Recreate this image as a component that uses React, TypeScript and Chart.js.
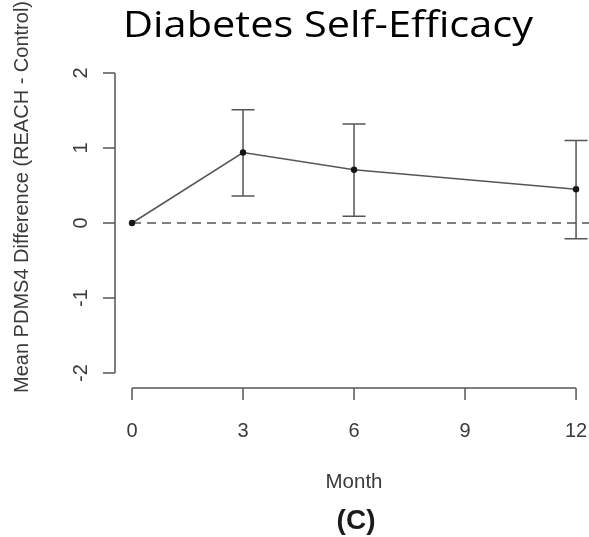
import React, { useEffect, useRef } from "react";
import { Chart, registerables } from "chart.js";

Chart.register(...registerables);

// ---- data ----
const months = [0, 3, 6, 12];
const meanDiff = [0, 0.94, 0.71, 0.45];
const ciLower: (number | null)[] = [null, 0.36, 0.09, -0.21];
const ciUpper: (number | null)[] = [null, 1.51, 1.32, 1.1];
const xTicks = [0, 3, 6, 9, 12];
const yTicks = [-2, -1, 0, 1, 2];
const refLineY = 0;

const titleText = "Diabetes Self-Efficacy";
const yLabel = "Mean PDMS4 Difference (REACH - Control)";
const xLabel = "Month";
const panelLabel = "(C)";

const X_MIN = -0.46;
const X_MAX = 12.35;
const Y_MIN = -2.2;
const Y_MAX = 2.16;

const AXIS_COLOR = "#555555";
const TEXT_COLOR = "#3a3a3a";
const SANS = "'Liberation Sans', Arial, sans-serif";

const decorPlugin = {
  id: "rDecor",
  beforeDatasetsDraw(chart: any) {
    const { ctx, scales } = chart;
    const xs = scales.x;
    const ys = scales.y;
    ctx.save();
    ctx.strokeStyle = AXIS_COLOR;
    ctx.lineWidth = 1.5;
    const cap = 11.5;
    for (let i = 0; i < months.length; i++) {
      const lo = ciLower[i];
      const hi = ciUpper[i];
      if (lo == null || hi == null) continue;
      const x = xs.getPixelForValue(months[i]);
      const y1 = ys.getPixelForValue(lo);
      const y2 = ys.getPixelForValue(hi);
      ctx.beginPath();
      ctx.moveTo(x, y1);
      ctx.lineTo(x, y2);
      ctx.moveTo(x - cap, y1);
      ctx.lineTo(x + cap, y1);
      ctx.moveTo(x - cap, y2);
      ctx.lineTo(x + cap, y2);
      ctx.stroke();
    }
    ctx.restore();
  },
  afterDraw(chart: any) {
    const { ctx, scales, chartArea } = chart;
    const xs = scales.x;
    const ys = scales.y;
    const tick = 12;
    ctx.save();
    ctx.strokeStyle = AXIS_COLOR;
    ctx.lineWidth = 1.5;

    // y axis
    const ax = chartArea.left;
    ctx.beginPath();
    ctx.moveTo(ax, ys.getPixelForValue(yTicks[0]));
    ctx.lineTo(ax, ys.getPixelForValue(yTicks[yTicks.length - 1]));
    for (const v of yTicks) {
      const y = ys.getPixelForValue(v);
      ctx.moveTo(ax, y);
      ctx.lineTo(ax - tick, y);
    }
    ctx.stroke();

    // x axis
    const ay = chartArea.bottom;
    ctx.beginPath();
    ctx.moveTo(xs.getPixelForValue(xTicks[0]), ay);
    ctx.lineTo(xs.getPixelForValue(xTicks[xTicks.length - 1]), ay);
    for (const v of xTicks) {
      const x = xs.getPixelForValue(v);
      ctx.moveTo(x, ay);
      ctx.lineTo(x, ay + tick);
    }
    ctx.stroke();

    ctx.fillStyle = TEXT_COLOR;
    ctx.font = `20px ${SANS}`;
    // x tick labels
    ctx.textAlign = "center";
    ctx.textBaseline = "alphabetic";
    for (const v of xTicks) {
      ctx.fillText(String(v), xs.getPixelForValue(v), ay + 49);
    }
    // y tick labels (rotated)
    for (const v of yTicks) {
      ctx.save();
      ctx.translate(ax - 28, ys.getPixelForValue(v));
      ctx.rotate(-Math.PI / 2);
      ctx.textAlign = "center";
      ctx.textBaseline = "alphabetic";
      ctx.fillText(String(v), 0, 0);
      ctx.restore();
    }

    // x label
    const xMid = (xs.getPixelForValue(xTicks[0]) + xs.getPixelForValue(xTicks[xTicks.length - 1])) / 2;
    ctx.font = `20.5px ${SANS}`;
    ctx.textAlign = "center";
    ctx.fillText(xLabel, xMid, ay + 100);

    // y label
    ctx.save();
    ctx.translate(28, 197);
    ctx.rotate(-Math.PI / 2);
    ctx.font = `20px ${SANS}`;
    ctx.textAlign = "center";
    ctx.textBaseline = "alphabetic";
    ctx.fillText(yLabel, 0, 0);
    ctx.restore();

    // panel label
    ctx.fillStyle = "#1a1a1a";
    ctx.font = `bold 28px ${SANS}`;
    ctx.textAlign = "center";
    ctx.textBaseline = "middle";
    ctx.fillText(panelLabel, xMid + 2, 521);

    // title (stretched horizontally to the reference width)
    ctx.fillStyle = "#000000";
    ctx.font = `37px 'Open Sans', Lato, sans-serif`;
    ctx.textAlign = "center";
    ctx.textBaseline = "alphabetic";
    const w = ctx.measureText(titleText).width || 1;
    const sx = 410 / w;
    ctx.save();
    ctx.translate(328, 37);
    ctx.scale(sx, 1);
    ctx.fillText(titleText, 0, 0);
    ctx.restore();

    ctx.restore();
  },
};

export default function App() {
  const canvasRef = useRef<HTMLCanvasElement | null>(null);

  useEffect(() => {
    const canvas = canvasRef.current;
    if (!canvas) return;
    const chart = new Chart(canvas, {
      type: "line",
      data: {
        datasets: [
          {
            label: "Mean difference",
            data: months.map((m, i) => ({ x: m, y: meanDiff[i] })),
            borderColor: "#555555",
            borderWidth: 1.5,
            pointRadius: 3.2,
            pointBackgroundColor: "#151515",
            pointBorderColor: "#151515",
            pointBorderWidth: 0,
            tension: 0,
            order: 0,
          },
          {
            label: "Reference",
            data: [
              { x: months[0], y: refLineY },
              { x: X_MAX, y: refLineY },
            ],
            borderColor: "#555555",
            borderWidth: 1.5,
            borderDash: [9, 6],
            pointRadius: 0,
            tension: 0,
            order: 1,
          },
        ],
      },
      options: {
        animation: false,
        responsive: false,
        devicePixelRatio: 1,
        layout: { autoPadding: false, padding: { left: 115, right: 0, top: 61, bottom: 149 } },
        plugins: {
          legend: { display: false },
          tooltip: { enabled: false },
          title: { display: false },
        },
        scales: {
          x: { type: "linear", min: X_MIN, max: X_MAX, display: false },
          y: { type: "linear", min: Y_MIN, max: Y_MAX, display: false },
        },
      },
      plugins: [decorPlugin],
    } as any);
    return () => chart.destroy();
  }, []);

  return (
    <div style={{ position: "fixed", left: 0, top: 0, width: 589, height: 537, background: "#fff" }}>
      <canvas ref={canvasRef} width={589} height={537} style={{ display: "block" }} />
    </div>
  );
}
